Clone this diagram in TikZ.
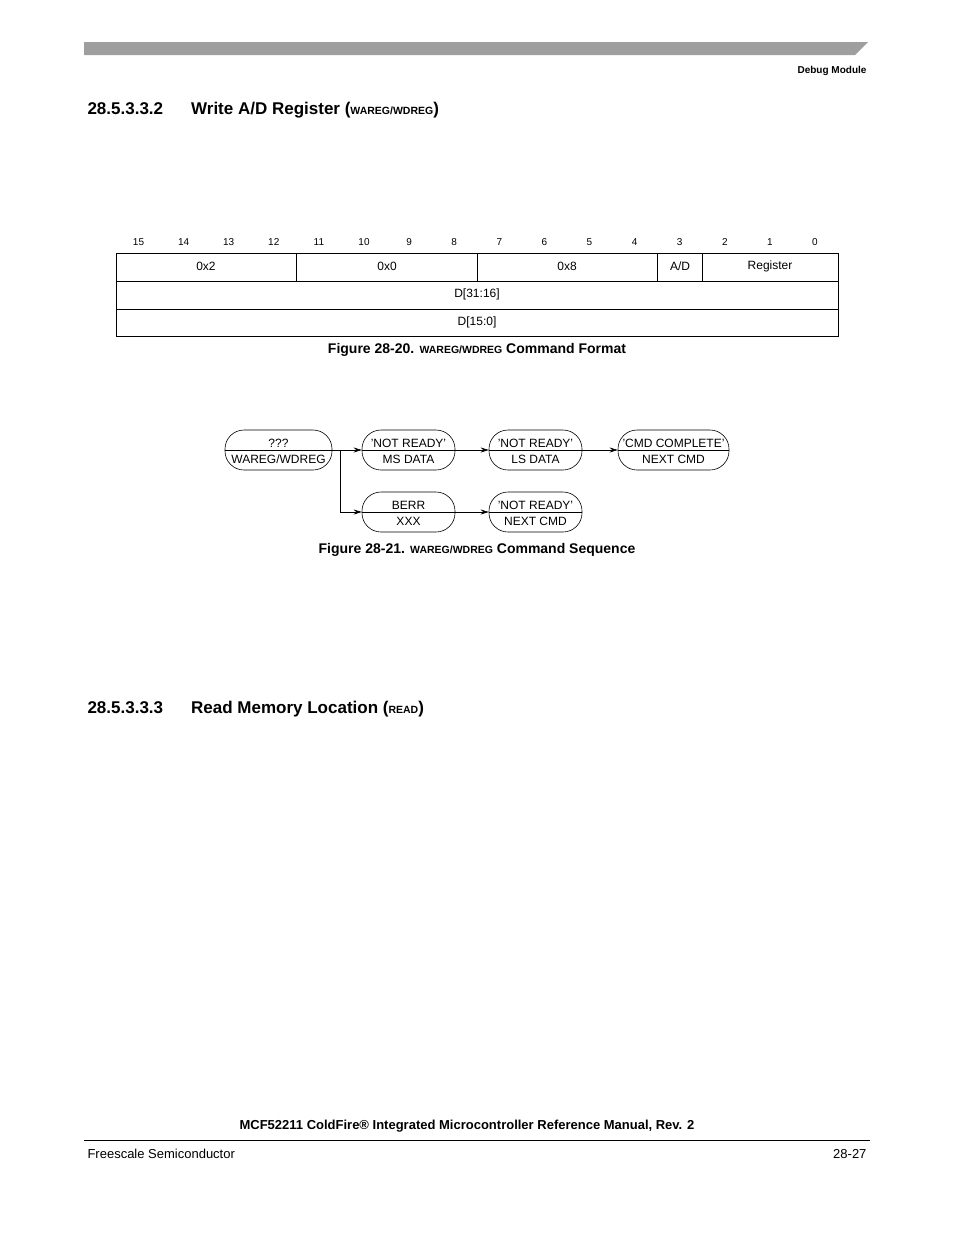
\documentclass[tikz,border=0pt]{standalone}
\usepackage{fontspec}
\setmainfont{Liberation Sans}
\usetikzlibrary{arrows.meta}
\newcommand{\sck}[1]{{\fontsize{10.5}{12}\selectfont #1}}
\begin{document}
\begin{tikzpicture}[x=1pt,y=-1pt,
  cap/.style={draw,rounded corners=19pt,minimum width=#1,minimum height=40pt,inner sep=0pt,line width=0.6pt},
  lbl/.style={font=\fontsize{12}{13}\selectfont},
  small/.style={font=\fontsize{10}{11}\selectfont},
  arr/.style={-{Stealth[length=8pt,width=5pt]},line width=0.6pt}]
\useasboundingbox (0,0) rectangle (954,1235);
% header
\fill[gray!75] (84,42) -- (868,42) -- (855,55) -- (84,55) -- cycle;
\node[anchor=east,font=\bfseries\fontsize{10}{11}\selectfont] (hdr) at (870,71) {Debug Module};
\node[anchor=west,font=\bfseries\fontsize{17}{19}\selectfont] (h1) at (84,110) {28.5.3.3.2\hspace{28pt}Write A/D Register (\sck{WAREG/WDREG})};
% register table
\foreach \i in {0,...,15} {
  \pgfmathtruncatemacro{\b}{15-\i}
  \node[small] (b\b) at (138.5+\i*45.1,242) {\b};
}
\draw[line width=0.6pt] (116,253) rectangle (838,336);
\draw[line width=0.6pt] (116,281) -- (838,281) (116,309) -- (838,309);
\draw[line width=0.6pt] (296.5,253) -- (296.5,281) (477,253) -- (477,281) (657,253) -- (657,281) (702,253) -- (702,281);
\node[lbl] (f1) at (206,266) {0x2};
\node[lbl] (f2) at (387,266) {0x0};
\node[lbl] (f3) at (567,266) {0x8};
\node[lbl] (f4) at (680,266) {A/D};
\node[lbl] (f5) at (770,266) {Register};
\node[lbl] (f6) at (477,294) {D[31:16]};
\node[lbl] (f7) at (477,322) {D[15:0]};
\node[font=\bfseries\fontsize{14}{16}\selectfont] (c1) at (477,350) {Figure 28-20. \sck{WAREG/WDREG} Command Format};
% sequence
\node[cap=107pt] (s0) at (278.5,450) {};
\node[cap=93pt] (s1) at (408.5,450) {};
\node[cap=93pt] (s2) at (535.5,450) {};
\node[cap=111pt] (s3) at (673.5,450) {};
\node[cap=93pt] (s4) at (408.5,512) {};
\node[cap=93pt] (s5) at (535.5,512) {};
\foreach \n/\a/\b in {s0/WAREG\slash WDREG/???,s1/MS DATA/'NOT READY',s2/LS DATA/'NOT READY',s3/NEXT CMD/'CMD COMPLETE',s4/XXX/BERR,s5/NEXT CMD/'NOT READY'} {
  \draw[line width=0.6pt] (\n.west) -- (\n.east);
  \node[lbl] at ([yshift=-9pt]\n.center) {\a};
  \node[lbl] at ([yshift=7pt]\n.center) {\b};
}
\coordinate (br) at (340,450);
\draw[arr] (s0.east) -- (s1.west);
\draw[arr] (br) |- (s4.west);
\draw[arr] (s1.east) -- (s2.west);
\draw[arr] (s2.east) -- (s3.west);
\draw[arr] (s4.east) -- (s5.west);
\node[font=\bfseries\fontsize{14}{16}\selectfont] (c2) at (477,550) {Figure 28-21. \sck{WAREG/WDREG} Command Sequence};
\node[anchor=west,font=\bfseries\fontsize{17}{19}\selectfont] (h2) at (84,709) {28.5.3.3.3\hspace{28pt}Read Memory Location (\sck{READ})};
% footer
\node[font=\bfseries\fontsize{13}{15}\selectfont] (ft) at (467,1126) {MCF52211 ColdFire® Integrated Microcontroller Reference Manual, Rev. 2};
\draw[line width=0.6pt] (84,1140) -- (870,1140);
\node[anchor=west,font=\fontsize{13}{15}\selectfont] (fl) at (84,1154) {Freescale Semiconductor};
\node[anchor=east,font=\fontsize{13}{15}\selectfont] (fr) at (870,1154) {28-27};
\end{tikzpicture}
\end{document}
